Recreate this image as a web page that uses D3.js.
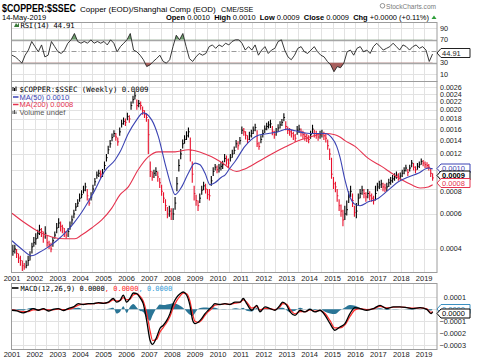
<!DOCTYPE html>
<html>
<head>
<meta charset="utf-8">
<script src="https://cdn.jsdelivr.net/npm/d3@7"></script>
<style>
  html, body { margin: 0; padding: 0; background: #fff; }
  svg { display: block; }
  text { font-family: "Liberation Sans", Arial, sans-serif; }
  .mono { font-family: "DejaVu Sans Mono", monospace; }
</style>
</head>
<body>
<svg id="chart" width="480" height="360"></svg>
<script>
// ── Monthly price bars from Jan 2001, in units of 0.0001 ──
const priceHigh = [
  4.2,4.2,4.0,3.8,3.7,3.5,3.4,3.5,3.7,3.9,4.3,4.6,
  4.8,5.0,5.3,5.1,4.9,5.2,4.7,4.4,4.3,4.6,4.9,5.4,
  5.7,5.5,5.3,5.1,4.9,5.1,5.5,5.9,6.3,6.8,7.1,7.6,
  7.9,8.3,8.6,8.0,7.2,7.7,8.4,9.1,9.8,10.0,9.9,10.1,
  11.0,12.0,13.2,14.1,15.2,15.8,15.3,14.5,16.3,17.8,18.3,18.1,
  19.3,18.8,22.0,23.5,24.8,22.5,22.4,22.0,20.8,19.9,19.2,18.0,
  11.0,9.8,10.0,10.3,9.8,9.1,8.4,7.7,7.1,6.5,6.6,6.4,
  6.4,7.3,9.2,11.3,12.7,14.2,14.9,15.6,16.3,14.5,11.0,8.3,
  7.5,7.0,7.6,8.3,8.7,8.5,8.0,8.0,9.3,10.3,10.7,10.5,
  10.7,10.9,11.1,12.0,11.8,11.4,12.0,12.6,13.1,14.1,13.9,14.6,
  16.5,16.2,15.6,14.9,15.5,15.9,16.5,17.0,15.8,13.8,14.9,15.9,
  16.7,17.2,17.5,17.8,16.6,15.7,16.2,16.9,17.5,18.0,19.2,17.5,
  16.5,16.2,15.9,15.5,15.1,16.6,16.8,16.1,15.7,15.4,15.1,14.9,
  15.7,16.8,15.9,15.7,15.3,15.7,15.9,15.5,15.1,14.2,12.8,11.5,
  9.2,8.7,8.0,7.1,6.7,6.3,6.6,7.0,7.8,8.3,7.6,6.6,
  6.8,7.6,8.0,8.3,8.0,7.7,8.0,7.8,7.6,7.4,8.3,8.6,
  8.8,8.9,8.6,8.5,8.6,9.0,9.2,9.4,9.6,9.8,9.6,9.7,
  10.0,10.3,10.6,10.1,10.6,11.2,10.8,10.4,10.8,11.0,11.4,11.2,
  11.0,10.9,10.7,10.2,9.6
];
const priceLow = [
  3.7,3.8,3.6,3.4,3.3,3.1,3.15,3.2,3.3,3.5,3.8,4.1,
  4.2,4.5,4.7,4.6,4.3,4.5,4.1,4.0,3.85,4.1,4.5,4.8,
  5.1,4.9,4.8,4.6,4.5,4.6,5.0,5.3,5.7,6.2,6.5,6.9,
  7.2,7.6,7.8,7.0,6.6,7.0,7.6,8.3,9.0,9.2,9.1,9.2,
  10.0,11.0,12.0,12.9,13.9,14.6,14.0,13.2,14.8,16.3,16.8,16.6,
  17.7,17.2,20.0,21.5,22.5,20.0,20.6,20.0,18.9,18.2,17.4,12.0,
  9.2,8.8,9.1,9.3,8.7,8.1,7.4,6.8,6.2,5.7,5.8,5.6,
  5.6,6.3,7.8,9.8,11.3,12.8,13.5,14.1,14.5,11.0,8.6,7.0,
  6.6,6.2,6.8,7.5,7.9,7.6,7.1,7.0,8.3,9.3,9.9,9.6,
  9.7,9.9,10.1,10.9,10.6,10.2,11.0,11.5,12.0,12.9,12.6,13.4,
  15.1,14.8,14.2,13.6,14.1,14.5,15.1,15.6,13.0,12.6,13.6,14.5,
  15.3,15.8,16.1,16.2,14.9,14.3,14.8,15.5,16.1,16.6,17.5,15.8,
  15.1,14.8,14.5,14.1,13.8,15.0,15.3,14.7,14.3,14.0,13.8,13.6,
  14.3,15.2,14.5,14.3,14.0,14.3,14.5,14.1,13.7,12.6,11.2,9.0,
  8.0,7.7,6.9,6.2,5.8,5.2,5.6,5.9,6.8,7.3,6.5,5.8,
  5.7,6.6,7.2,7.5,7.2,6.9,7.2,7.0,6.9,6.7,7.0,7.8,
  8.0,8.1,7.8,7.7,7.8,8.2,8.4,8.6,8.8,9.0,8.8,8.9,
  9.2,9.5,9.8,9.3,9.8,10.3,9.9,9.6,10.0,10.2,10.6,10.4,
  10.2,10.1,9.9,9.2,8.8
];
const priceClose = [
  3.9,4.0,3.8,3.6,3.5,3.3,3.25,3.3,3.5,3.7,4.1,4.3,
  4.5,4.8,5.0,4.9,4.6,4.8,4.3,4.2,4.0,4.4,4.7,5.1,
  5.4,5.2,5.1,4.9,4.7,4.9,5.2,5.6,6.0,6.5,6.8,7.2,
  7.5,7.9,8.2,7.4,6.8,7.3,8.0,8.7,9.4,9.6,9.5,9.6,
  10.5,11.5,12.6,13.5,14.5,15.2,14.6,13.8,15.5,17.0,17.5,17.3,
  18.5,18.0,21.0,22.5,23.5,21.0,21.5,21.0,19.8,19.0,18.3,15.0,
  9.8,9.2,9.6,9.8,9.2,8.6,7.8,7.2,6.6,6.0,6.2,6.0,
  6.0,6.8,8.5,10.5,12.0,13.5,14.2,14.8,15.5,12.5,9.5,7.6,
  7.0,6.6,7.2,7.9,8.3,8.0,7.5,7.4,8.8,9.8,10.3,10.0,
  10.2,10.4,10.6,11.4,11.2,10.8,11.5,12.0,12.5,13.5,13.2,14.0,
  15.8,15.5,14.9,14.2,14.8,15.2,15.8,16.3,13.5,13.1,14.2,15.2,
  16.0,16.5,16.8,17.0,15.6,15.0,15.5,16.2,16.8,17.3,18.3,16.5,
  15.8,15.5,15.2,14.8,14.4,15.8,16.0,15.4,15.0,14.7,14.4,14.2,
  15.0,16.0,15.2,15.0,14.6,15.0,15.2,14.8,14.4,13.2,12.0,9.5,
  8.5,8.2,7.4,6.6,6.2,5.6,6.0,6.3,7.3,7.8,7.0,6.1,
  6.2,7.2,7.6,7.9,7.6,7.3,7.6,7.4,7.2,7.0,7.6,8.2,
  8.4,8.5,8.2,8.1,8.2,8.6,8.8,9.0,9.2,9.4,9.2,9.3,
  9.6,9.9,10.2,9.7,10.2,10.8,10.3,10.0,10.4,10.6,11.0,10.8,
  10.6,10.5,10.3,9.6,9.1
];

// ── Moving averages: [decimal year, value in 0.0001] ──
const ma50 = [
  [2001.0,4.4],[2001.42,4.0],[2001.86,3.7],[2002.2,3.85],[2002.59,4.1],[2002.95,4.4],
  [2003.31,4.8],[2003.7,5.4],[2004.04,6.1],[2004.33,6.9],[2004.62,7.9],[2005.06,9.9],
  [2005.5,11.2],[2005.72,12.3],[2006.08,15.2],[2006.4,17.5],[2006.73,19.3],[2007.1,17.8],
  [2007.39,14.7],[2007.68,10.8],[2007.97,8.2],[2008.12,7.5],[2008.41,8.2],[2008.7,9.6],
  [2008.99,10.8],[2009.21,10.6],[2009.43,9.6],[2009.65,8.4],[2009.86,8.6],[2010.16,9.2],
  [2010.3,9.4],[2010.52,10.2],[2010.74,11.0],[2011.17,13.1],[2011.76,14.9],[2012.19,15.2],
  [2012.63,15.5],[2013.0,16.0],[2013.36,15.7],[2013.79,15.3],[2014.23,15.2],[2014.67,15.2],
  [2014.96,14.5],[2015.18,13.1],[2015.32,11.6],[2015.54,8.9],[2015.76,7.3],[2015.98,6.7],
  [2016.2,6.6],[2016.56,6.9],[2017.0,7.2],[2017.43,7.9],[2017.87,8.7],[2018.31,9.2],
  [2018.74,9.6],[2019.18,10.2],[2019.37,10.1]
];
const ma200 = [
  [2001.0,6.05],[2001.57,5.4],[2002.15,4.9],[2002.74,4.6],[2003.31,4.5],[2003.75,4.5],
  [2004.04,4.7],[2004.48,5.1],[2004.92,5.6],[2005.35,6.4],[2005.72,7.5],[2006.08,8.2],
  [2006.51,10.0],[2006.95,11.6],[2007.39,12.3],[2008.12,12.3],[2008.7,12.6],[2009.43,12.0],
  [2009.86,11.4],[2010.3,10.6],[2010.52,10.1],[2010.81,9.8],[2011.17,10.1],[2011.76,11.0],
  [2012.34,12.0],[2012.92,13.0],[2013.5,14.0],[2014.09,14.7],[2014.67,15.2],[2015.1,15.0],
  [2015.32,14.6],[2015.54,14.0],[2015.98,13.1],[2016.56,11.4],[2017.14,10.4],[2017.58,9.6],
  [2018.02,8.9],[2018.45,8.4],[2018.82,8.1],[2019.18,8.2],[2019.37,8.4]
];

// ── RSI(14), evenly spaced from Jan 2001 to 14 May 2019 ──
const rsiValues = [
  43,40,35,29,43,52,67,58,49,61,40,43,67,58,49,46,52,64,70,81,67,64,67,64,70,64,67,64,67,61,
  70,64,49,58,64,70,81,52,49,43,35,23,26,32,37,43,32,29,35,58,78,70,81,58,37,32,40,46,43,46,
  58,61,55,61,58,64,61,67,70,
  70,64,52,58,52,61,43,52,58,46,52,55,67,70,52,40,35,43,55,58,49,46,52,58,49,43,40,32,26,14,
  23,21,29,49,52,43,55,58,49,52,46,58,64,58,52,55,58,64,58,52,61,58,52,58,61,55,58,52,32,45
];

// ── MACD(12,26,9) in units of 0.0001 ──
const macdYears = [
  2001.0,2001.21,2001.49,2001.71,2001.93,2002.15,2002.37,2002.59,2002.80,2003.02,
  2003.24,2003.46,2003.68,2003.90,2004.11,2004.33,2004.55,2004.77,2004.99,2005.21,
  2005.42,2005.57,2005.72,2005.86,2006.01,2006.15,2006.30,2006.45,2006.59,2006.73,
  2006.88,2007.03,2007.14,2007.32,2007.46,2007.61,2007.76,2007.90,2008.04,2008.19,
  2008.34,2008.48,2008.63,2008.77,2008.89,2008.99,2009.14,2009.28,2009.43,2009.57,
  2009.72,2009.86,2010.08,2010.30,2010.52,2010.74,2010.96,2011.10,2011.25,2011.47,
  2011.69,2011.83,2012.05,2012.27,2012.48,2012.70,2012.82,2013.00,2013.14,2013.36,
  2013.58,2013.79,2014.01,2014.23,2014.45,2014.67,2014.89,2015.10,2015.32,2015.54,
  2015.76,2015.98,2016.20,2016.49,2016.78,2017.07,2017.36,2017.65,2017.94,2018.24,
  2018.52,2018.82,2019.11,2019.30,2019.37
];
const macdLine = [
  -0.08,-0.14,-0.3,-0.14,0.06,-0.08,0.06,-0.14,0,0.06,
  -0.1,0.06,0.2,0.47,0.4,0.47,0.47,0.55,0.5,0.6,
  0.9,0.6,0.75,1.17,0.6,0.9,1.36,1.3,0.97,0.47,
  -0.92,-2.58,-2.92,-2.3,-1.6,-1.33,-0.92,-0.36,0.47,1.0,
  1.3,1.44,1.17,0.33,-0.92,-1.2,-1.06,-0.78,-0.36,-0.08,
  0.2,0.47,0.4,0.47,0.4,0.6,0.6,0.9,0.47,-0.08,
  0.33,-0.22,0.2,0.06,-0.08,0.33,0.6,0.33,-0.22,-0.5,
  -0.08,-0.22,0,-0.22,-0.08,-0.5,-1.2,-1.75,-1.47,-1.2,
  -0.36,0.14,0.06,-0.08,0.06,0.33,0.06,0.2,0.2,0.14,
  0.06,0.14,0,-0.36,-0.2
];
const macdSignal = [
  -0.05,-0.1,-0.2,-0.2,-0.05,-0.05,0.0,-0.05,-0.05,0.02,
  -0.03,0.0,0.12,0.35,0.42,0.45,0.47,0.52,0.52,0.56,
  0.78,0.7,0.72,0.98,0.8,0.85,1.2,1.28,1.1,0.7,
  -0.3,-1.8,-2.6,-2.5,-1.9,-1.5,-1.1,-0.6,0.1,0.7,
  1.1,1.35,1.3,0.7,-0.4,-1.0,-1.1,-0.9,-0.5,-0.2,
  0.05,0.35,0.4,0.45,0.42,0.52,0.58,0.78,0.6,0.1,
  0.22,-0.05,0.08,0.06,-0.03,0.2,0.48,0.42,0.0,-0.38,
  -0.2,-0.2,-0.06,-0.16,-0.1,-0.35,-0.95,-1.55,-1.55,-1.3,
  -0.6,-0.05,0.05,-0.03,0.03,0.25,0.12,0.17,0.19,0.15,
  0.09,0.12,0.03,-0.25,-0.22
];
const macdHist = [
  -0.03,-0.04,-0.1,0.06,0.1,-0.03,0.06,-0.08,0.05,0.04,
  -0.07,0.06,0.08,0.12,-0.02,0.02,0.0,0.03,-0.02,0.04,
  0.12,-0.35,-0.2,0.25,-0.3,0.2,0.45,0.15,-0.13,-0.23,
  -0.7,-0.95,-0.5,0.1,0.4,0.35,0.4,0.45,0.5,0.45,
  0.3,0.1,-0.2,-0.45,-0.55,-0.3,0.04,0.12,0.14,0.12,
  0.15,0.12,0.0,0.02,-0.02,0.08,0.02,0.12,-0.13,-0.18,
  0.11,-0.17,0.12,0.0,-0.05,0.13,0.12,-0.09,-0.22,-0.12,
  0.12,-0.02,0.06,-0.06,0.02,-0.2,-0.35,-0.4,-0.1,0.15,
  0.35,0.3,0.1,-0.05,0.03,0.08,-0.06,0.03,0.01,-0.01,
  -0.03,0.02,-0.03,-0.11,0.02
];

// ── Axis ticks ──
const years = d3.range(2001, 2020);
const priceTicks = [4, 6, 8, 10, 12, 14, 16, 18, 20, 22, 24, 26];
const priceLabels = [4, 6, 8, 12, 14, 16, 18, 20, 22, 24, 26];   // 0.0010 sits under its tag
const rsiTicks = [90, 70, 50, 30, 10];
const macdTicks = [1, 0, -1, -2, -3];
const macdLabels = [1, -1, -2, -3];                            // 0.0000 sits under its tag

// ── Layout ──
const L = 11.5, R = 437;
const PANELS = { rsi: [22, 81], price: [81, 272], macd: [283, 349] };
const UP = "#000", DOWN = "#e8112d", BLUE = "#3b43b3", MA_RED = "#e5334f";

const svg = d3.select("#chart");
const defs = svg.append("defs");

const toDate = t => {
  const y = Math.floor(t), a = new Date(y, 0, 1), b = new Date(y + 1, 0, 1);
  return new Date(+a + (t - y) * (b - a));
};
const monthDate = i => new Date(2001, i, 15);
const rsiDate = d3.scaleLinear().domain([0, rsiValues.length - 1])
  .range([+new Date(2001, 0, 1), +new Date(2019, 4, 14)]);

const x = d3.scaleTime().domain([new Date(2001, 0, 1), new Date(2019, 0, 1)]).range([12, 424.2]);
const yRsi = d3.scaleLinear().domain([0, 100]).range([79.7, 22.7]);
const yPrice = d3.scaleLog().domain([4, 26]).range([249, 87.1]);
const yMacd = d3.scaleLinear().domain([-3, 1]).range([345.3, 297.3]);

const gridDates = d3.timeMonth.every(6).range(new Date(2001, 6, 1), new Date(2019, 1, 1));
const px = v => Math.round(v) + 0.5;

Object.entries(PANELS).forEach(([k, [t, b]]) => {
  defs.append("clipPath").attr("id", `clip-${k}`)
    .append("rect").attr("x", L).attr("y", t).attr("width", R - L).attr("height", b - t);
});

function panel(key, ticks, yScale) {
  const [t, b] = PANELS[key];
  const g = svg.append("g");
  g.selectAll("line.v").data(gridDates).join("line")
    .attr("x1", d => px(x(d))).attr("x2", d => px(x(d)))
    .attr("y1", t).attr("y2", b).attr("stroke", "#e2e2e2");
  g.selectAll("line.h").data(ticks).join("line")
    .attr("x1", L).attr("x2", R)
    .attr("y1", d => px(yScale(d))).attr("y2", d => px(yScale(d)))
    .attr("stroke", "#e2e2e2");
  return g;
}
function border(key) {
  const [t, b] = PANELS[key];
  svg.append("rect").attr("x", L).attr("y", t + 0.5).attr("width", R - L).attr("height", b - t)
    .attr("fill", "none").attr("stroke", "#9c9c9c");
}
function tag(y, label, color, bold) {
  const g = svg.append("g");
  g.append("path")
    .attr("d", `M${R},${y} L${R + 4},${y - 4.5} H${R + 33} V${y + 4.5} H${R + 4} Z`)
    .attr("fill", "#fff").attr("stroke", color).attr("stroke-width", 1);
  g.append("text").attr("x", R + 5).attr("y", y).attr("dy", "0.35em")
    .attr("font-size", 7.5).attr("fill", color)
    .attr("font-weight", bold ? "bold" : null).text(label);
}

// ── Header ──
svg.append("text").attr("x", 2).attr("y", 12).attr("font-size", 11.5).attr("font-weight", "bold")
  .attr("textLength", 74).attr("lengthAdjust", "spacingAndGlyphs").text("$COPPER:$SSEC");
svg.append("text").attr("x", 80).attr("y", 11.5).attr("font-size", 8).text("Copper (EOD)/Shanghai Comp (EOD)");
svg.append("text").attr("x", 221).attr("y", 11.5).attr("font-size", 7.2).text("CME/SSE");
svg.append("text").attr("x", 386).attr("y", 8.5).attr("font-size", 8).attr("fill", "#7a7a7a")
  .attr("textLength", 50).attr("lengthAdjust", "spacingAndGlyphs").text("StockCharts.com");
svg.append("circle").attr("cx", 382.5).attr("cy", 5.8).attr("r", 2.3)
  .attr("fill", "none").attr("stroke", "#7a7a7a").attr("stroke-width", 0.8);
svg.append("text").attr("x", 2).attr("y", 20).attr("font-size", 7.5).text("14-May-2019");

const quote = svg.append("text").attr("x", 166).attr("y", 20).attr("font-size", 8)
  .attr("textLength", 263).attr("lengthAdjust", "spacingAndGlyphs");
[["Open", true], [" 0.0010  ", false], ["High", true], [" 0.0010  ", false],
 ["Low", true], [" 0.0009  ", false], ["Close", true], [" 0.0009  ", false],
 ["Chg", true], [" +0.0000 (+0.11%)", false]]
  .forEach(([s, b]) => quote.append("tspan").attr("font-weight", b ? "bold" : null)
    .attr("xml:space", "preserve").text(s));
svg.append("path").attr("d", "M431.5,19 L434,15.5 L436.5,19 Z").attr("fill", "#2e9e3a");

// ── RSI panel ──
const gR = panel("rsi", [10, 90], yRsi);
[30, 70].forEach(v => gR.append("line").attr("x1", L).attr("x2", R)
  .attr("y1", px(yRsi(v))).attr("y2", px(yRsi(v))).attr("stroke", "#a6a6a6").attr("stroke-width", 1.3));
gR.append("line").attr("x1", L).attr("x2", R).attr("y1", px(yRsi(50))).attr("y2", px(yRsi(50)))
  .attr("stroke", "#9a9a9a").attr("stroke-dasharray", "5,2,1,2");

const rsiPts = rsiValues.map((v, i) => [new Date(rsiDate(i)), v]);
defs.append("clipPath").attr("id", "clip-ob").append("rect")
  .attr("x", L).attr("y", 22).attr("width", R - L).attr("height", yRsi(70) - 22);
defs.append("clipPath").attr("id", "clip-os").append("rect")
  .attr("x", L).attr("y", yRsi(30)).attr("width", R - L).attr("height", 81 - yRsi(30));
gR.append("path").datum(rsiPts).attr("clip-path", "url(#clip-ob)").attr("fill", "#6f9f6f")
  .attr("d", d3.area().x(d => x(d[0])).y0(yRsi(70)).y1(d => yRsi(d[1])));
gR.append("path").datum(rsiPts).attr("clip-path", "url(#clip-os)").attr("fill", "#a8605e")
  .attr("d", d3.area().x(d => x(d[0])).y0(yRsi(30)).y1(d => yRsi(d[1])));
gR.append("path").datum(rsiPts).attr("fill", "none").attr("stroke", "#222").attr("stroke-width", 0.9)
  .attr("d", d3.line().x(d => x(d[0])).y(d => yRsi(d[1])));
border("rsi");

gR.append("path").attr("d", "M14,27 L16,23 L17.5,25 L19,22.5 L19,27 Z").attr("fill", "#3a7a3a");
svg.append("text").attr("class", "mono").attr("x", 20.5).attr("y", 27.5).attr("font-size", 7.2)
  .attr("textLength", 54).text("RSI(14) 44.91");
svg.selectAll("text.rsitick").data(rsiTicks).join("text").attr("class", "rsitick")
  .attr("x", 440).attr("y", d => yRsi(d)).attr("dy", "0.35em").attr("font-size", 7.3).attr("fill", "#222")
  .text(d => d);
tag(53, "44.91", "#222", false);

// ── Price panel ──
const gP = panel("price", priceTicks, yPrice);
const gBars = gP.append("g").attr("clip-path", "url(#clip-price)");
const barColor = (d, i) => i > 0 && d < priceClose[i - 1] ? DOWN : UP;
gBars.selectAll("line.bar").data(priceClose).join("line").attr("class", "bar")
  .attr("x1", (d, i) => x(monthDate(i))).attr("x2", (d, i) => x(monthDate(i)))
  .attr("y1", (d, i) => yPrice(priceHigh[i])).attr("y2", (d, i) => yPrice(priceLow[i]))
  .attr("stroke", barColor).attr("stroke-width", 1.1);
gBars.selectAll("line.tick").data(priceClose).join("line").attr("class", "tick")
  .attr("x1", (d, i) => x(monthDate(i))).attr("x2", (d, i) => x(monthDate(i)) + 1.2)
  .attr("y1", d => yPrice(d)).attr("y2", d => yPrice(d))
  .attr("stroke", barColor).attr("stroke-width", 1);
const maLine = d3.line().x(d => x(toDate(d[0]))).y(d => yPrice(d[1])).curve(d3.curveMonotoneX);
gBars.append("path").datum(ma200).attr("fill", "none").attr("stroke", MA_RED).attr("stroke-width", 1.1).attr("d", maLine);
gBars.append("path").datum(ma50).attr("fill", "none").attr("stroke", BLUE).attr("stroke-width", 1.1).attr("d", maLine);
border("price");

svg.selectAll("text.ptick").data(priceLabels).join("text").attr("class", "ptick")
  .attr("x", 440).attr("y", d => yPrice(d) + (d === 8 ? 2 : 0)).attr("dy", "0.35em")
  .attr("font-size", 7.1).attr("fill", "#222")
  .text(d => d3.format(".4f")(d / 10000));
tag(168.5, "0.0010", BLUE, false);
tag(175.5, "0.0009", "#000", true);
tag(183, "0.0008", MA_RED, false);

// legend
svg.append("path").attr("d", "M13,91 V87 M14.5,91 V88 M16,91 V86.5").attr("stroke", "#000").attr("stroke-width", 1);
svg.append("text").attr("class", "mono").attr("x", 19.5).attr("y", 91.5).attr("font-size", 7.4)
  .text("$COPPER:$SSEC (Weekly) 0.0009");
svg.append("line").attr("x1", 13).attr("x2", 18.5).attr("y1", 97).attr("y2", 97).attr("stroke", BLUE).attr("stroke-width", 1.5);
svg.append("text").attr("x", 19.5).attr("y", 99.5).attr("font-size", 7.5).attr("fill", BLUE).text("MA(50) 0.0010");
svg.append("line").attr("x1", 13).attr("x2", 18.5).attr("y1", 104.5).attr("y2", 104.5).attr("stroke", MA_RED).attr("stroke-width", 1.5);
svg.append("text").attr("x", 19.5).attr("y", 107).attr("font-size", 7.5).attr("fill", MA_RED).text("MA(200) 0.0008");
svg.append("path").attr("d", "M13,114 V111 M14.5,114 V110 M16,114 V111.5").attr("stroke", "#555").attr("stroke-width", 1);
svg.append("text").attr("x", 19.5).attr("y", 114.5).attr("font-size", 7.5).attr("fill", "#555").text("Volume undef");

// ── MACD panel ──
const gM = panel("macd", macdTicks, yMacd);
const macdPts = macdYears.map((t, i) => ({ d: toDate(t), m: macdLine[i], s: macdSignal[i], h: macdHist[i] }));
const gMC = gM.append("g").attr("clip-path", "url(#clip-macd)");
gMC.append("path").datum(macdPts).attr("fill", "#2a7596")
  .attr("d", d3.area().x(d => x(d.d)).y0(yMacd(0)).y1(d => yMacd(d.h)).curve(d3.curveMonotoneX));
gMC.append("path").datum(macdPts).attr("fill", "none").attr("stroke", "#ff2a2a").attr("stroke-width", 1.2)
  .attr("d", d3.line().x(d => x(d.d)).y(d => yMacd(d.s)).curve(d3.curveMonotoneX));
gMC.append("path").datum(macdPts).attr("fill", "none").attr("stroke", "#000").attr("stroke-width", 1.3)
  .attr("d", d3.line().x(d => x(d.d)).y(d => yMacd(d.m)).curve(d3.curveMonotoneX));
border("macd");

svg.append("line").attr("x1", 12).attr("x2", 18.5).attr("y1", 288).attr("y2", 288).attr("stroke", "#000").attr("stroke-width", 1.6);
const macdLbl = svg.append("text").attr("class", "mono").attr("x", 20.5).attr("y", 290.5).attr("font-size", 7);
macdLbl.append("tspan").text("MACD(12,26,9) 0.0000");
macdLbl.append("tspan").attr("fill", "#ff2a2a").text(", 0.0000");
macdLbl.append("tspan").attr("fill", "#3aa0d8").text(", 0.0000");

svg.selectAll("text.mtick").data(macdLabels).join("text").attr("class", "mtick")
  .attr("x", 466).attr("y", d => yMacd(d)).attr("dy", "0.35em").attr("text-anchor", "end")
  .attr("font-size", 7.3).attr("fill", "#222")
  .text(d => d3.format(".4f")(d / 10000));
tag(309, "0.0000", "#3a8fc0", false);
tag(313.5, "0.0000", "#000", false);

// ── Year labels ──
[280.5, 356.5].forEach(yy => {
  svg.append("g").selectAll("text").data(years).join("text")
    .attr("x", d => x(new Date(d, 0, 1))).attr("y", yy)
    .attr("text-anchor", "middle").attr("font-size", 7.5).attr("fill", "#222")
    .text(d => d);
});
</script>
</body>
</html>
